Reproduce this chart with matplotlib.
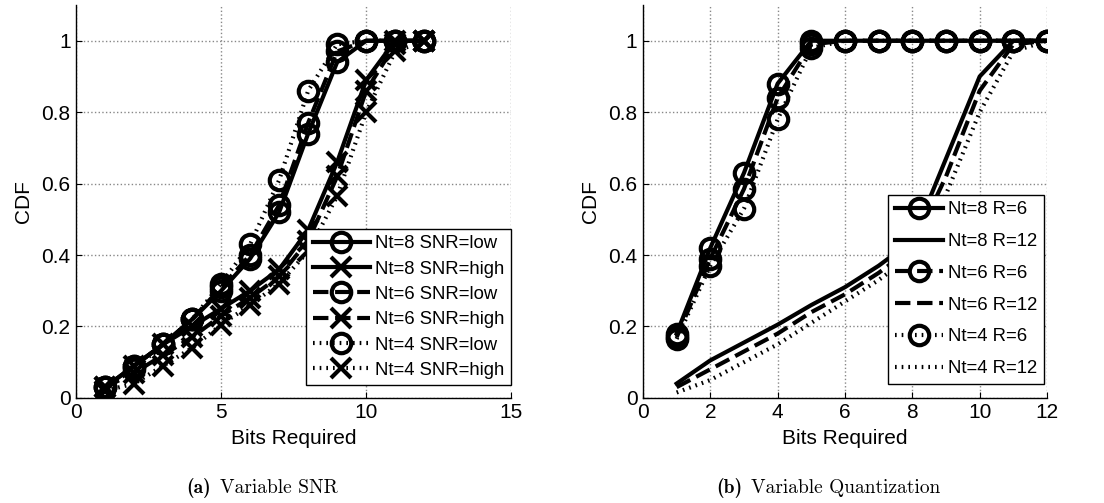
import matplotlib
matplotlib.use('Agg')

import numpy as np
import matplotlib.pyplot as plt

plt.rcParams['font.family'] = ['Liberation Sans', 'DejaVu Sans']

bits = [1, 2, 3, 4, 5, 6, 7, 8, 9, 10, 11, 12]

# (a) variable SNR
nt8_low = [0.03, 0.09, 0.15, 0.22, 0.30, 0.39, 0.52, 0.74, 0.94, 1.0, 1.0, 1.0]
nt8_high = [0.03, 0.09, 0.15, 0.20, 0.25, 0.30, 0.36, 0.47, 0.66, 0.89, 1.0, 1.0]
nt6_low = [0.03, 0.09, 0.15, 0.22, 0.31, 0.40, 0.54, 0.77, 0.97, 1.0, 1.0, 1.0]
nt6_high = [0.03, 0.07, 0.12, 0.17, 0.23, 0.28, 0.34, 0.44, 0.62, 0.86, 0.99, 1.0]
nt4_low = [0.03, 0.08, 0.15, 0.22, 0.32, 0.43, 0.61, 0.86, 0.99, 1.0, 1.0, 1.0]
nt4_high = [0.02, 0.04, 0.09, 0.14, 0.205, 0.26, 0.32, 0.41, 0.565, 0.80, 0.97, 1.0]

# (b) variable quantization
nt8_r6 = [0.18, 0.42, 0.63, 0.88, 1.0, 1.0, 1.0, 1.0, 1.0, 1.0, 1.0, 1.0]
nt8_r12 = [0.04, 0.105, 0.155, 0.205, 0.26, 0.31, 0.37, 0.44, 0.67, 0.90, 1.0, 1.0]
nt6_r6 = [0.17, 0.39, 0.585, 0.84, 0.99, 1.0, 1.0, 1.0, 1.0, 1.0, 1.0, 1.0]
nt6_r12 = [0.03, 0.08, 0.13, 0.18, 0.24, 0.29, 0.35, 0.42, 0.62, 0.86, 0.99, 1.0]
nt4_r6 = [0.165, 0.37, 0.53, 0.78, 0.98, 1.0, 1.0, 1.0, 1.0, 1.0, 1.0, 1.0]
nt4_r12 = [0.015, 0.05, 0.10, 0.15, 0.21, 0.27, 0.33, 0.40, 0.57, 0.80, 0.97, 1.0]

lw = 3
ms = 14
mew = 3
fs_tick = 15
fs_leg = 13.3
dots = (0, (0.4, 1.2))  # fine matlab-like dotted line

fig = plt.figure(figsize=(11.04, 5.03), dpi=100)
ax1 = fig.add_axes([0.069, 0.209, 0.394, 0.781])
ax2 = fig.add_axes([0.5824, 0.209, 0.366, 0.781])

common = dict(color='black', lw=lw, mew=mew, ms=ms, mfc='none', mec='black')
ax1.plot(bits, nt8_low, '-', marker='o', label='Nt=8 SNR=low', **common)
ax1.plot(bits, nt8_high, '-', marker='x', label='Nt=8 SNR=high', **common)
ax1.plot(bits, nt6_low, '--', marker='o', label='Nt=6 SNR=low', **common)
ax1.plot(bits, nt6_high, '--', marker='x', label='Nt=6 SNR=high', **common)
ax1.plot(bits, nt4_low, linestyle=dots, marker='o', label='Nt=4 SNR=low', **common)
ax1.plot(bits, nt4_high, linestyle=dots, marker='x', label='Nt=4 SNR=high', **common)
ax1.set_xlim(0, 15)
ax1.set_xticks([0, 5, 10, 15])

ax2.plot(bits, nt8_r6, '-', marker='o', label='Nt=8 R=6', **common)
ax2.plot(bits, nt8_r12, '-', label='Nt=8 R=12', color='black', lw=lw)
ax2.plot(bits, nt6_r6, '--', marker='o', label='Nt=6 R=6', **common)
ax2.plot(bits, nt6_r12, '--', label='Nt=6 R=12', color='black', lw=lw)
ax2.plot(bits, nt4_r6, linestyle=dots, marker='o', label='Nt=4 R=6', **common)
ax2.plot(bits, nt4_r12, linestyle=dots, label='Nt=4 R=12', color='black', lw=lw)
ax2.set_xlim(0, 12)
ax2.set_xticks([0, 2, 4, 6, 8, 10, 12])

for ax in (ax1, ax2):
    ax.set_ylim(0, 1.1)
    ax.set_yticks([0, 0.2, 0.4, 0.6, 0.8, 1])
    ax.set_yticklabels(['0', '0.2', '0.4', '0.6', '0.8', '1'])
    ax.grid(True, linestyle=':', color='#888888', lw=1)
    for s in ('top', 'right'):
        ax.spines[s].set_visible(False)
    ax.spines['left'].set_linewidth(1)
    ax.spines['bottom'].set_linewidth(1)
    ax.tick_params(direction='in', labelsize=fs_tick, length=4, pad=4)
    ax.set_xlabel('Bits Required', fontsize=fs_tick, labelpad=5)
    ax.set_ylabel('CDF', fontsize=fs_tick, labelpad=6)

leg_kw = dict(fontsize=fs_leg, fancybox=False, edgecolor='black', framealpha=1,
              handletextpad=0.3, borderpad=0.35, borderaxespad=0)
leg1 = ax1.legend(loc='lower right', bbox_to_anchor=(1.0, 0.032),
                  labelspacing=0.45, handlelength=3.1, **leg_kw)
leg2 = ax2.legend(loc='lower right', bbox_to_anchor=(0.993, 0.036),
                  labelspacing=0.8, handlelength=2.6, **leg_kw)
for leg in (leg1, leg2):
    leg.get_frame().set_linewidth(1)

# captions: bold "(a)" followed by regular text
renderer = fig.canvas.get_renderer()
for x0, tag, txt in [(186, '(a)', 'Variable SNR'),
                     (716, '(b)', 'Variable Quantization')]:
    t = fig.text(x0 / 1104, 0.02, tag, fontfamily='cmb10', fontsize=14,
                 ha='left', va='baseline')
    bb = t.get_window_extent(renderer)
    fig.text((bb.x1 + 9) / 1104, 0.02, txt, fontfamily='cmr10', fontsize=14,
             ha='left', va='baseline')

plt.savefig('out.png', dpi=100)
